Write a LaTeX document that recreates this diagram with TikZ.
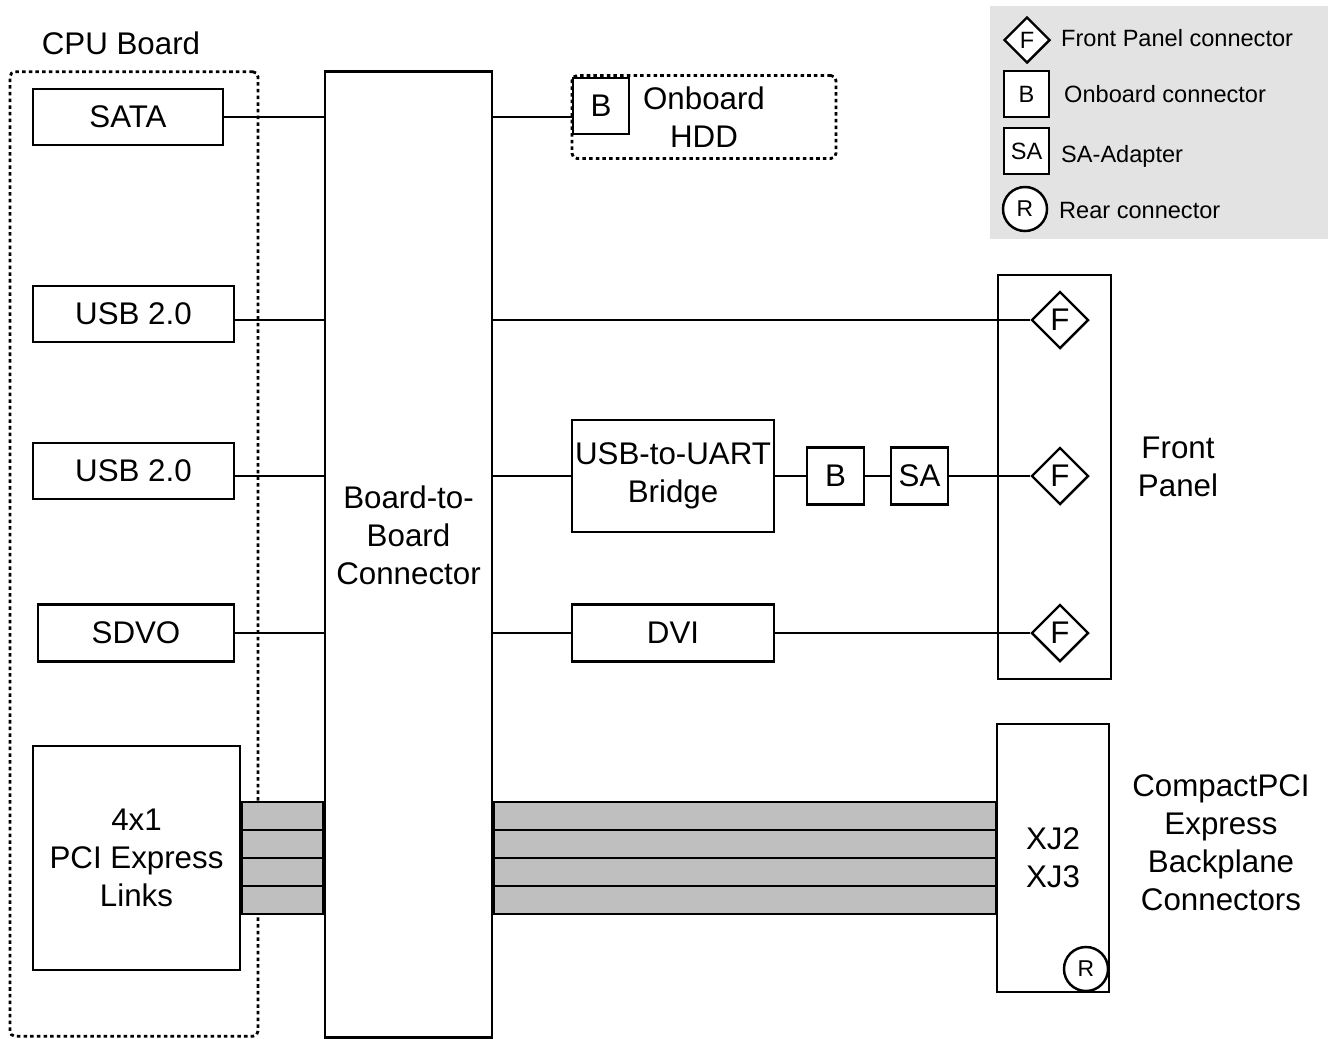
\documentclass[tikz,border=0pt]{standalone}
\usepackage{fontspec}
\setmainfont{Liberation Sans}
\usetikzlibrary{shapes.geometric}

\begin{document}
\begin{tikzpicture}[
    x=0.01cm, y=-0.01cm,
    font=\fontsize{8.9}{10.8}\selectfont,
    line width=0.7pt,
    block/.style={draw, rectangle, fill=white, inner sep=0pt, align=center},
    dashbox/.style={draw, dash pattern=on 1pt off 0.9pt, line width=0.8pt, rounded corners=1.5pt, inner sep=0pt, align=center},
    fconn/.style={diamond, draw, fill=white, inner sep=0pt, minimum width=0.57cm, minimum height=0.57cm},
    bconn/.style={block, minimum width=0.57cm, minimum height=0.57cm},
    rconn/.style={circle, draw, fill=white, inner sep=0pt, minimum size=0.44cm, font=\fontsize{6.5}{7}\selectfont},
    link/.style={draw, fill=black!25},
    legtext/.style={anchor=west, inner sep=0pt, font=\fontsize{6.7}{8}\selectfont},
    small/.style={font=\fontsize{6.7}{8}\selectfont}
  ]
  \useasboundingbox (0,0) rectangle (1329,1039);

  % CPU board side
  \node[dashbox, minimum width=2.48cm, minimum height=9.64cm] (cpu) at (134,554) {};
  \node (cpulbl) at (121,43) {CPU Board};
  \node[block, minimum width=1.90cm, minimum height=0.56cm] (sata) at (128,117) {SATA};
  \node[block, minimum width=2.01cm, minimum height=0.56cm] (usb1) at (133.5,314) {USB 2.0};
  \node[block, minimum width=2.01cm, minimum height=0.56cm] (usb2) at (133.5,471) {USB 2.0};
  \node[block, minimum width=1.96cm, minimum height=0.57cm] (sdvo) at (136,633) {SDVO};
  \node[block, minimum width=2.07cm, minimum height=2.24cm] (pci) at (136.5,858) {4x1\\PCI Express\\Links};

  \node[block, minimum width=1.67cm, minimum height=9.65cm] (bb) at (408.5,554.5) {};
  \node[align=center] (bbtxt) at (408.5,535) {Board-to-\\Board\\Connector};

  % onboard HDD
  \node[dashbox, minimum width=2.64cm, minimum height=0.83cm] (hdd) at (704,117) {Onboard\\HDD};
  \node[bconn, minimum height=0.56cm, minimum width=0.56cm] (hddb) at (601,106) {B};

  % front panel
  \node[block, minimum width=1.13cm, minimum height=4.04cm] (fp) at (1054.5,477) {};
  \node[align=center] (fplbl) at (1178,467) {Front\\Panel};
  \node[fconn] (fp1) at (1060,320) {F};
  \node[fconn] (fp2) at (1060,476) {F};
  \node[fconn] (fp3) at (1060,633) {F};

  \node[block, minimum width=2.02cm, minimum height=1.12cm] (uart) at (673,476) {USB-to-UART\\Bridge};
  \node[bconn] (uartb) at (835.5,476) {B};
  \node[bconn] (uartsa) at (919.5,476) {SA};
  \node[block, minimum width=2.02cm, minimum height=0.57cm] (dvi) at (673,633) {DVI};

  % backplane
  \node[block, minimum width=1.12cm, minimum height=2.68cm] (xj) at (1053,858) {XJ2\\XJ3};
  \node[rconn] (xjr) at (1086,969) {R};
  \node[align=center] (xjlbl) at (1221,843) {CompactPCI\\Express\\Backplane\\Connectors};

  % connections
  \draw (sata) -- (sata -| bb.west);
  \draw (bb.east |- hdd) -- (hddb.west |- hdd);
  \draw (usb1.east |- fp1) -- (bb.west |- fp1);
  \draw (bb.east |- fp1) -- (fp1);
  \draw (usb2.east |- fp2) -- (bb.west |- fp2);
  \draw (bb.east |- fp2) -- (uart.west |- fp2);
  \draw (uart.east |- uartb) -- (uartb);
  \draw (uartb) -- (uartsa);
  \draw (uartsa) -- (fp2);
  \draw (sdvo) -- (sdvo -| bb.west);
  \draw (bb.east |- dvi) -- (dvi);
  \draw (dvi) -- (fp3);
  \foreach \i in {0,...,3} {
    \draw[link] (pci.east |- 0,{802+28*\i}) rectangle (bb.west |- 0,{830+28*\i});
    \draw[link] (bb.east |- 0,{802+28*\i}) rectangle (xj.west |- 0,{830+28*\i});
  }

  % legend
  \fill[black!11] (990,6) rectangle (1328,239);
  \node[fconn, minimum width=0.46cm, minimum height=0.46cm, small] (legf) at (1027,40) {F};
  \node[legtext] (legftxt) at (1060,38) {Front Panel connector};
  \node[bconn, minimum width=0.45cm, minimum height=0.46cm, small] (legb) at (1026.5,94) {B};
  \node[legtext] (legbtxt) at (1063,94) {Onboard connector};
  \node[bconn, minimum width=0.45cm, minimum height=0.46cm, small] (legsa) at (1026.5,151) {SA};
  \node[legtext] (legsatxt) at (1060,156) {SA-Adapter};
  \node[rconn] (legr) at (1025,209) {R};
  \node[legtext] (legrtxt) at (1058,211) {Rear connector};
\end{tikzpicture}
\end{document}
